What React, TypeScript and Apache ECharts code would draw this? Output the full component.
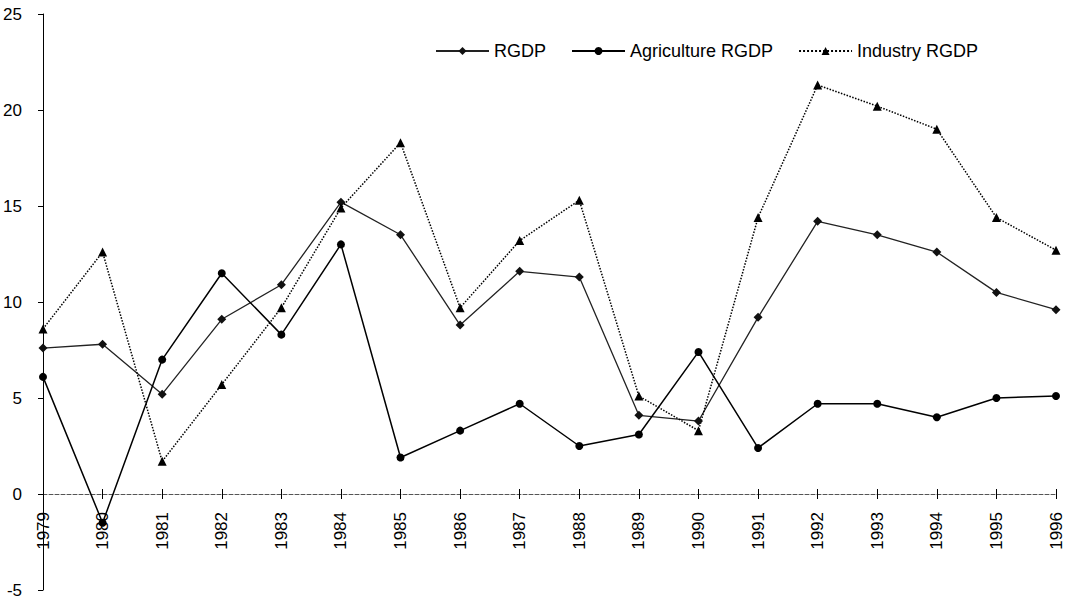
import React, { useEffect, useRef } from "react";
import * as echarts from "echarts";

const years = ["1979","1980","1981","1982","1983","1984","1985","1986","1987","1988","1989","1990","1991","1992","1993","1994","1995","1996"];
const rgdp = [7.6, 7.8, 5.2, 9.1, 10.9, 15.2, 13.5, 8.8, 11.6, 11.3, 4.1, 3.8, 9.2, 14.2, 13.5, 12.6, 10.5, 9.6];
const agriculture = [6.1, -1.5, 7.0, 11.5, 8.3, 13.0, 1.9, 3.3, 4.7, 2.5, 3.1, 7.4, 2.4, 4.7, 4.7, 4.0, 5.0, 5.1];
const industry = [8.6, 12.6, 1.7, 5.7, 9.7, 14.9, 18.3, 9.7, 13.2, 15.3, 5.1, 3.3, 14.4, 21.3, 20.2, 19.0, 14.4, 12.7];

const FONT = "'Liberation Sans', Arial, sans-serif";
const GRID_TOP = 14;
const GRID_BOTTOM = 15;
const H = 605;
const Y_MIN = -5;
const Y_MAX = 25;
// shift the category axis up from the grid bottom to the value 0
const zeroOffset = -((H - GRID_TOP - GRID_BOTTOM) * (0 - Y_MIN)) / (Y_MAX - Y_MIN);

export default function App() {
  const ref = useRef<HTMLDivElement>(null);
  useEffect(() => {
    if (!ref.current) return;
    const chart = echarts.init(ref.current, null, { renderer: "svg" });
    chart.setOption({
      animation: false,
      backgroundColor: "#ffffff",
      textStyle: { fontFamily: FONT, color: "#000" },
      grid: { left: 43, right: 12, top: GRID_TOP, bottom: GRID_BOTTOM, containLabel: false, outerBoundsMode: "none" },
      legend: {
        left: 435,
        top: 42,
        padding: 0,
        itemWidth: 53,
        itemHeight: 10,
        itemGap: 25,
        textStyle: { fontSize: 18, color: "#000", fontFamily: FONT },
        data: ["RGDP", "Agriculture RGDP", "Industry RGDP"],
      },
      xAxis: [
        {
          type: "category",
          data: years,
          boundaryGap: false,
          position: "bottom",
          offset: zeroOffset,
          axisLine: { onZero: false, lineStyle: { color: "#555", width: 1, type: "dashed" } },
          axisTick: { show: true, inside: false, length: 5, lineStyle: { color: "#000" } },
          axisLabel: { rotate: 90, fontSize: 17, color: "#000", margin: 18, fontFamily: FONT, interval: 0 },
          splitLine: { show: false },
        },
        {
          type: "category",
          data: years,
          boundaryGap: false,
          position: "bottom",
          offset: zeroOffset,
          axisLine: { onZero: false, show: false },
          axisTick: { show: true, inside: true, length: 5, lineStyle: { color: "#000" } },
          axisLabel: { show: false },
          splitLine: { show: false },
        },
      ],
      yAxis: {
        type: "value",
        min: Y_MIN,
        max: Y_MAX,
        interval: 5,
        axisLine: { show: true, lineStyle: { color: "#000", width: 1 } },
        axisTick: { show: true, inside: false, length: 5, lineStyle: { color: "#000" } },
        axisLabel: { fontSize: 17, color: "#000", margin: 21, fontFamily: FONT },
        splitLine: { show: false },
      },
      series: [
        {
          name: "RGDP",
          type: "line",
          data: rgdp,
          symbol: "diamond",
          symbolSize: 9,
          itemStyle: { color: "#111" },
          lineStyle: { color: "#222", width: 1.3, type: "solid" },
        },
        {
          name: "Agriculture RGDP",
          type: "line",
          data: agriculture,
          symbol: "circle",
          symbolSize: 8,
          itemStyle: { color: "#000" },
          lineStyle: { color: "#000", width: 1.5, type: "solid" },
        },
        {
          name: "Industry RGDP",
          type: "line",
          data: industry,
          symbol: "triangle",
          symbolSize: 9,
          itemStyle: { color: "#000" },
          lineStyle: { color: "#000", width: 1.5, type: "dotted" },
        },
      ],
    });
    return () => chart.dispose();
  }, []);
  return (
    <div
      ref={ref}
      style={{ position: "fixed", left: 0, top: 0, width: 1068, height: 605, background: "#fff" }}
    />
  );
}
